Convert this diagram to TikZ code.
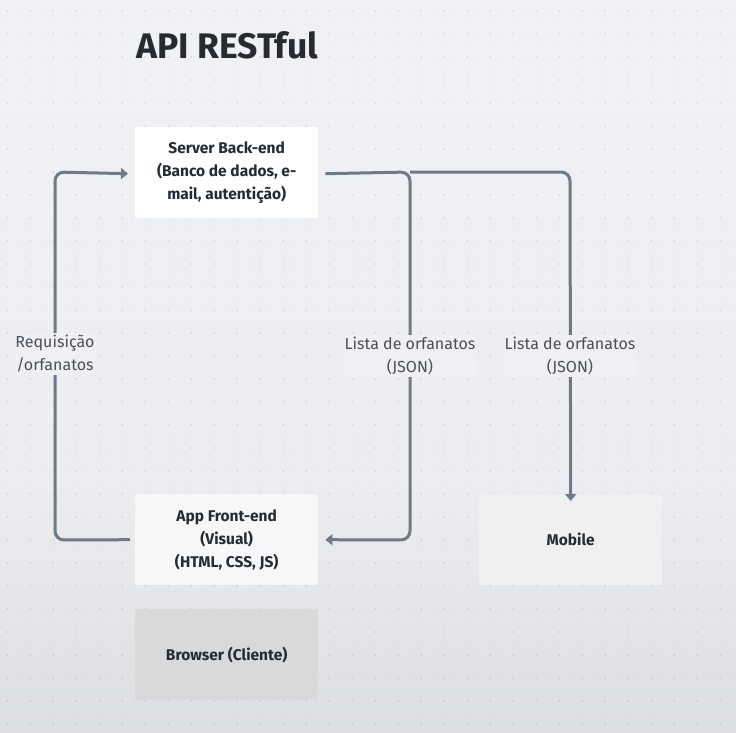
\documentclass[tikz,border=0pt]{standalone}
\usepackage{fontspec}
\setmainfont{Fira Sans}
\usetikzlibrary{arrows.meta}
\definecolor{bgtop}{HTML}{F3F5F8}
\definecolor{bgmid}{HTML}{EBEDF0}
\definecolor{bgbot}{HTML}{BFC2C6}
\definecolor{linec}{HTML}{6F7A86}
\definecolor{txtc}{HTML}{262B32}
\definecolor{lblc}{HTML}{4A5058}
\definecolor{labelbg}{HTML}{EEF0F3}
\pgfdeclareverticalshading{bgshade}{100bp}{color(0bp)=(bgbot); color(20bp)=(bgmid!55!bgbot); color(42bp)=(bgmid); color(100bp)=(bgtop)}
\tikzset{
  box/.style={draw=none, minimum width=183pt, minimum height=91pt, inner sep=0pt,
    font=\fontsize{15.5}{23}\selectfont\bfseries, text=txtc, align=center, anchor=north west},
  conn/.style={draw=linec, line width=3pt, rounded corners=9pt},
  tip/.style={-{Triangle[width=11pt,length=7pt]}},
  lbl/.style={font=\fontsize{16}{23}\selectfont, text=lblc, align=center, fill=labelbg, inner xsep=1pt, inner ysep=2pt},
}
\begin{document}
\begin{tikzpicture}[x=1pt,y=-1pt]
\useasboundingbox (0,0) rectangle (736,733);
\shade[shading=bgshade] (0,0) rectangle (736,733);
% dotted grid
\foreach \gx in {7.3,30.3,...,736} {
  \foreach \gy in {11,34,...,733} {
    \fill[black,opacity=0.13] (\gx,\gy) circle (0.9pt);
    \fill[black,opacity=0.06] (\gx+11.5,\gy) circle (0.7pt);
    \fill[black,opacity=0.06] (\gx,\gy+11.5) circle (0.7pt);
  }
}
% title
\node[anchor=base west, inner sep=0pt, font=\fontsize{35.5}{40}\selectfont\bfseries, text=txtc] (title) at (136,59) {API RESTful};
% boxes
\node[box, fill=white] (server) at (135,127) {Server Back-end\\(Banco de dados, e-\\mail, autentição)};
\node[box, fill=black!3] (app) at (135,494) {App Front-end\\(Visual)\\(HTML, CSS, JS)};
\node[box, fill=black!6] (mobile) at (479,494) {Mobile};
\node[box, fill=black!15] (browser) at (135,609) {Browser (Cliente)};
% corner coordinates
\coordinate (lc1) at (55,540);
\coordinate (lc2) at (55,172);
\coordinate (rc1) at (410,172);
\coordinate (rc2) at (410,540);
\coordinate (mc1) at (570,172);
% connectors
\draw[conn,tip] ([xshift=-5pt]app.west) -- (lc1) -- (lc2) -- ([xshift=-7pt,yshift=-1pt]server.west);
\draw[conn,tip] ([xshift=7pt,yshift=-1pt]server.east) -- (rc1) -- (rc2) -- ([xshift=7pt]app.east);
\draw[conn,tip] (rc1) -- (mc1) -- ([yshift=-7pt]mobile.north);
% labels
\node[lbl] (l1) at (55,354) {Requisição\\/orfanatos};
\node[lbl] (l2) at (410,356) {Lista de orfanatos\\(JSON)};
\node[lbl] (l3) at (570,356) {Lista de orfanatos\\(JSON)};
\end{tikzpicture}
\end{document}
